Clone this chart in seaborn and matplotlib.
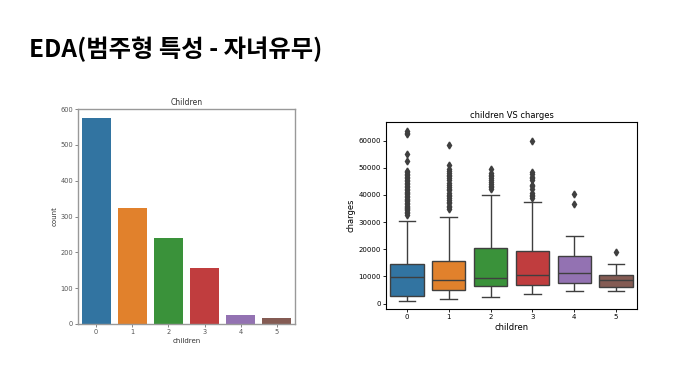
import numpy as np
import pandas as pd
import matplotlib
matplotlib.use('Agg')
import matplotlib.pyplot as plt
import seaborn as sns

# ─── Data ─────────────────────────────────────────────────────────────────────
children = [0, 1, 2, 3, 4, 5]
counts   = [574, 324, 240, 157, 25, 18]

# box summary of charges per number of children
whislo = [1120, 1710, 2300, 3440, 4500, 4690]
q1     = [2700, 4900, 6400, 6900, 7600, 6030]
med    = [9860, 8740, 9480, 10600, 11200, 8800]
q3     = [14600, 15700, 20570, 19330, 17360, 10340]
whishi = [30300, 31800, 40150, 37560, 24880, 14650]
outliers = [
    [32600, 33300, 33800, 34300, 34700, 35100, 35600, 36100, 36800, 37100,
     37700, 38300, 38700, 39100, 39600, 40200, 40900, 41100, 41900, 42100,
     42800, 43300, 43900, 44400, 45000, 45700, 46200, 46700, 47300, 47900,
     48500, 48900, 52600, 55100, 62600, 63000, 63770],
    [34800, 35500, 36100, 36900, 37600, 38300, 38800, 39600, 40100, 40900,
     41700, 42200, 42900, 43600, 44400, 45700, 46300, 46900, 47400, 48100,
     48800, 49600, 51200, 58600],
    [42100, 42800, 43500, 44200, 44700, 45700, 46200, 47000, 47300, 48200, 49600],
    [39000, 39700, 40100, 40900, 42100, 43200, 43800, 45600, 46100, 46700,
     47900, 48500, 60000],
    [36600, 40200],
    [19000],
]

# long table whose quartiles / whiskers reproduce the summary above
rows = []
for i, c in enumerate(children):
    k = len(outliers[i]) + 1
    vals = ([whislo[i]] + [q1[i]] * k + [med[i]] * k + [q3[i]] * k
            + [whishi[i]] + outliers[i])
    rows += [(c, v) for v in vals]
box_df = pd.DataFrame(rows, columns=['children', 'charges'])
cnt_df = pd.DataFrame({'children': children, 'count': counts})

# ─── Figure ───────────────────────────────────────────────────────────────────
plt.rcParams['font.family'] = ['DejaVu Sans']
fig = plt.figure(figsize=(6.86, 3.82), dpi=100)
fig.patch.set_facecolor('white')

fig.text(29/686, 1 - 49/382, 'EDA(범주형 특성 - 자녀유무)',
         family=['Noto Sans CJK KR', 'DejaVu Sans'], fontsize=17.5,
         fontweight='bold', va='center', ha='left')

# Count plot
ax1 = fig.add_axes([78/686, 1 - 324/382, 217/686, 215/382])
sns.barplot(data=cnt_df, x='children', y='count', hue='children',
            palette='tab10', saturation=0.75, legend=False, ax=ax1, width=0.8)
ax1.set_ylim(0, 600)
ax1.set_yticks(range(0, 601, 100))
ax1.set_title('Children', fontsize=5.5, pad=3, color='#333333')
ax1.set_xlabel('children', fontsize=5, labelpad=2, color='#333333')
ax1.set_ylabel('count', fontsize=5, labelpad=2, color='#333333')
ax1.tick_params(labelsize=4.8, length=2, width=0.5, pad=1.5, colors='#555555')
for s in ax1.spines.values():
    s.set_color('#999999'); s.set_linewidth(1.0)

# Box plot
ax2 = fig.add_axes([386/686, 1 - 309/382, 251/686, 187/382])
sns.boxplot(data=box_df, x='children', y='charges', hue='children',
            palette='tab10', saturation=0.75, legend=False, ax=ax2,
            linecolor='#3f3f3f', linewidth=1.0, width=0.8,
            flierprops=dict(marker='d', markersize=3.5,
                            markerfacecolor='#3f3f3f', markeredgecolor='#3f3f3f'))
ax2.set_yticks(range(0, 60001, 10000))
ax2.set_title('children VS charges', fontsize=6, pad=3)
ax2.set_xlabel('children', fontsize=6, labelpad=2)
ax2.set_ylabel('charges', fontsize=6, labelpad=2)
ax2.tick_params(labelsize=5, length=2, width=0.6, pad=1.5)
for s in ax2.spines.values():
    s.set_color('black'); s.set_linewidth(0.8)

plt.savefig('out.png', dpi=100)
